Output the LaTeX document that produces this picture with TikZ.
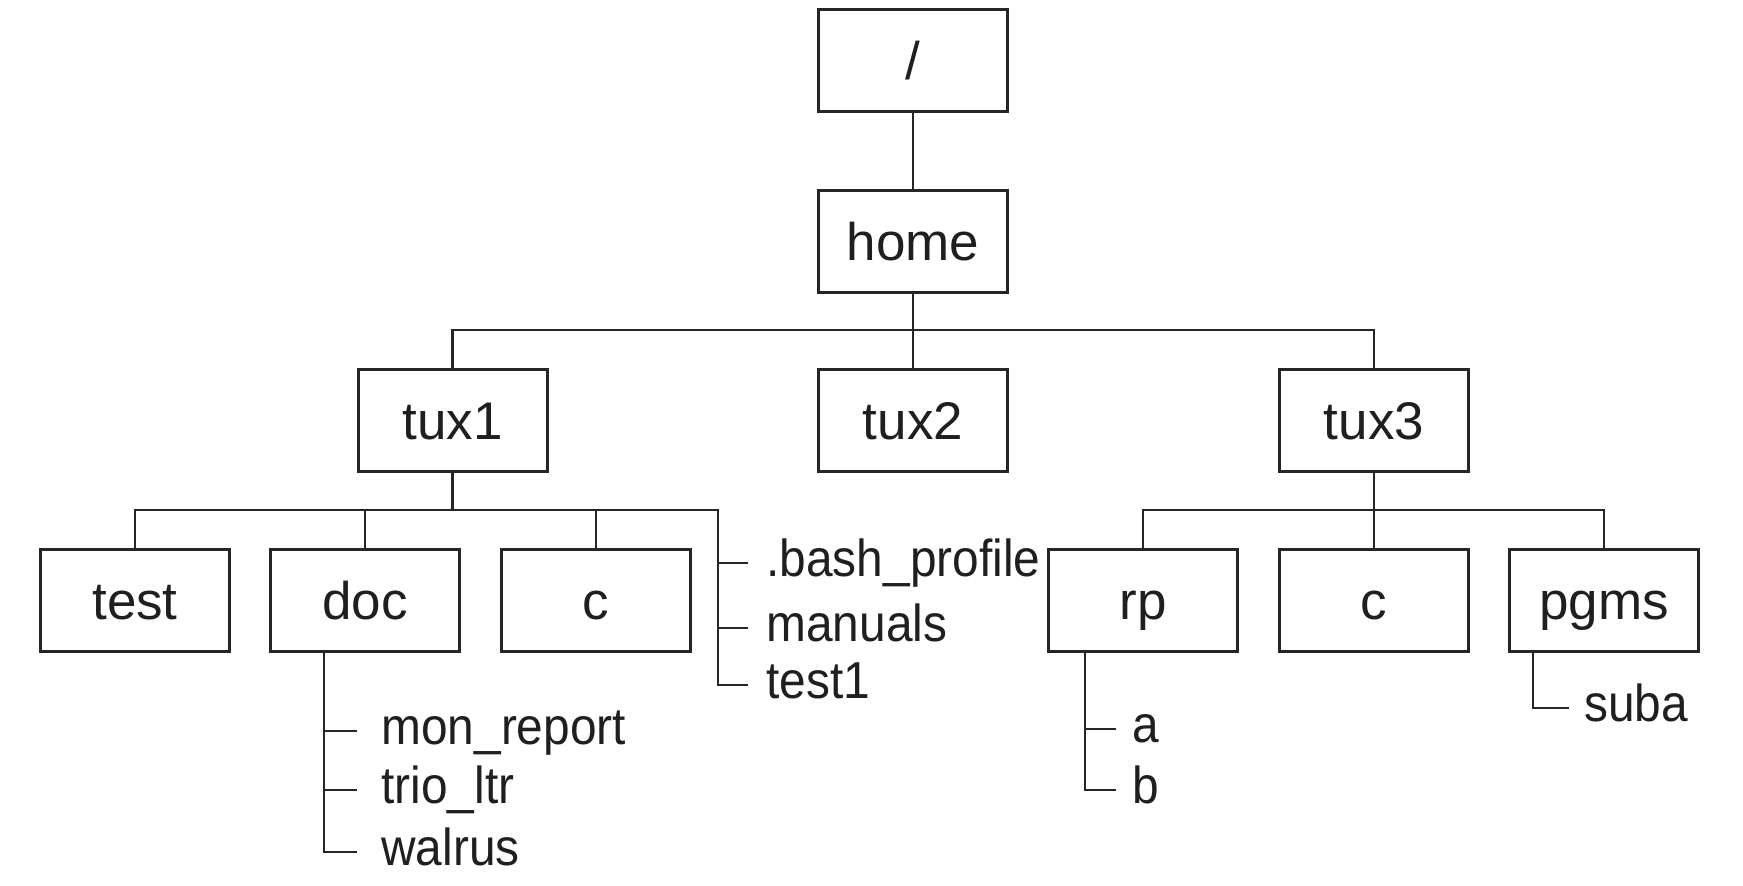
\documentclass[tikz,border=0pt]{standalone}
\usepackage{fontspec}
\setmainfont{Liberation Sans}[FakeStretch=0.92]
\newfontfamily\boxfont{Liberation Sans}
\begin{document}
\begin{tikzpicture}[x=0.5pt,y=-0.5pt,
  ink/.style={draw=black!85, line width=1.3pt},
  dir/.style={draw=black!85, line width=1.5pt, fill=white, minimum width=94.5pt, minimum height=51pt,
     inner sep=0pt, font=\boxfont\fontsize{26.5}{30}\selectfont, text=black!88, text height=19pt, text depth=0pt},
  leaf/.style={anchor=west, inner ysep=0pt, inner xsep=#1, font=\fontsize{26}{30}\selectfont,
     text=black!88, text height=13.5pt, text depth=0pt}]
\useasboundingbox (0,0) rectangle (1743,886);
% directories
\node[dir] (root) at (913,61) {/};
\node[dir] (home) at (913,241.5) {home};
\node[dir] (tux1) at (452.5,421) {tux1};
\node[dir] (tux2) at (913,421) {tux2};
\node[dir] (tux3) at (1374,421) {tux3};
\node[dir] (test) at (135,600.5) {test};
\node[dir] (doc) at (365,600.5) {doc};
\node[dir] (c1) at (596,600.5) {c};
\node[dir] (rp) at (1143,600.5) {rp};
\node[dir] (c2) at (1374,600.5) {c};
\node[dir] (pgms) at (1604,600.5) {pgms};
% files
\node[leaf=9pt] (bash) at (748,563) {.bash\_profile};
\node[leaf=9pt] (manuals) at (748,628) {manuals};
\node[leaf=9pt] (test1) at (748,685) {test1};
\node[leaf=12pt] (mon) at (357,731) {mon\_report};
\node[leaf=12pt] (trio) at (357,790) {trio\_ltr};
\node[leaf=12pt] (walrus) at (357,852) {walrus};
\node[leaf=8pt] (fa) at (1116,729) {a};
\node[leaf=8pt] (fb) at (1116,790) {b};
\node[leaf=7.5pt] (suba) at (1569,708) {suba};
% junctions
\coordinate (j0) at (913,330);
\coordinate (j1) at (452.5,510);
\coordinate (x1) at (718,510);
\coordinate (j2) at (1374,510);
\coordinate (d0) at (324,651);
\coordinate (r0) at (1085,651);
\coordinate (p0) at (1533,651);
% connectors
\draw[ink] (root) -- (home);
\draw[ink] (home.south) -- (tux2.north);
\draw[ink] (tux1.north) |- (j0) -| (tux3.north);
\draw[ink] (tux1.south) -- (j1);
\draw[ink] (test.north) |- (j1) -- (x1) |- (test1.west);
\draw[ink] (doc.north) -- (doc.north |- j1);
\draw[ink] (c1.north) -- (c1.north |- j1);
\draw[ink] (bash.west) -- (bash.west -| x1);
\draw[ink] (manuals.west) -- (manuals.west -| x1);
\draw[ink] (tux3.south) -- (c2.north);
\draw[ink] (rp.north) |- (j2) -| (pgms.north);
\draw[ink] (d0) |- (walrus.west);
\draw[ink] (mon.west) -- (mon.west -| d0);
\draw[ink] (trio.west) -- (trio.west -| d0);
\draw[ink] (r0) |- (fb.west);
\draw[ink] (fa.west) -- (fa.west -| r0);
\draw[ink] (p0) |- (suba.west);
\end{tikzpicture}
\end{document}
